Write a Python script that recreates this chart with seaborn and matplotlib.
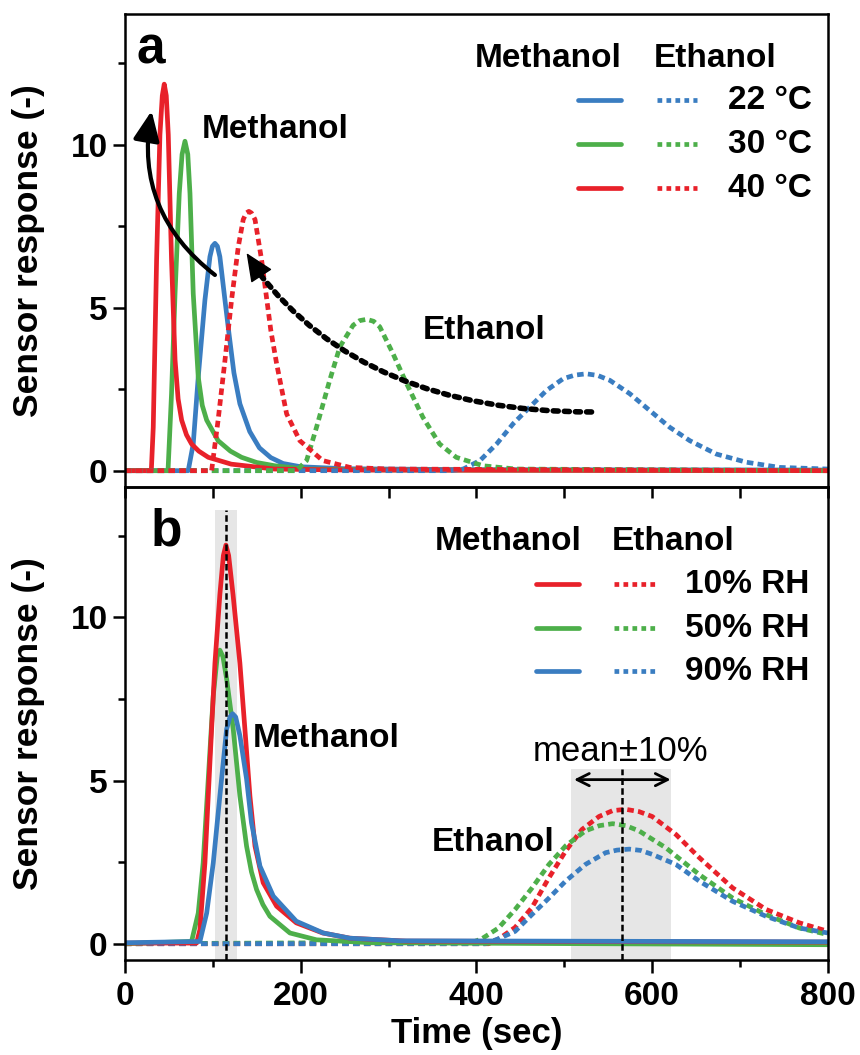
import matplotlib
matplotlib.use("Agg")
import matplotlib.pyplot as plt
import seaborn as sns
from matplotlib.ticker import MultipleLocator

# colours
RED = "#e8212a"
GREEN = "#4daf4a"
BLUE = "#3a7dc1"

# ---------- panel a: temperature ----------
# methanol (solid)
a_meoh_22_t = [0, 72, 77.7, 83.4, 91, 96.7, 99.5, 102.4, 105.2, 108, 113.8, 118.4, 124, 130.8, 142, 153, 166, 180, 200, 250, 400, 800]
a_meoh_22_y = [0, 0, 0.82, 2.87, 5.23, 6.56, 6.88, 6.97, 6.88, 6.56, 5.23, 4.2, 3.0, 2.05, 1.2, 0.7, 0.4, 0.22, 0.12, 0.06, 0.03, 0.02]
a_meoh_30_t = [0, 49, 53, 57, 61.8, 65, 68.3, 71.5, 74, 77.7, 83.4, 88, 93, 106, 120, 132.7, 150, 170.6, 205, 300, 800]
a_meoh_30_y = [0, 0, 2.36, 5.43, 8.5, 9.7, 10.1, 9.7, 8.5, 5.43, 2.87, 2.0, 1.55, 0.92, 0.6, 0.41, 0.25, 0.15, 0.05, 0.02, 0]
a_meoh_40_t = [0, 30, 32.2, 36, 39.8, 42.5, 44.7, 47, 49.3, 53, 57, 60.5, 64.5, 70, 75.8, 84, 94.8, 121, 170, 250, 800]
a_meoh_40_y = [0, 0, 1.33, 6.46, 10.3, 11.5, 11.85, 11.5, 10.3, 6.46, 3.4, 2.2, 1.55, 1.1, 0.82, 0.6, 0.41, 0.2, 0.05, 0.02, 0]
# ethanol (dotted)
a_etoh_22_t = [0, 370, 385, 404, 423, 441.8, 460.7, 479.7, 498.7, 512, 525, 538, 551.8, 574.5, 597, 620, 642.8, 673, 707, 745, 800]
a_etoh_22_y = [0, 0, 0.05, 0.31, 0.82, 1.44, 1.95, 2.46, 2.82, 2.93, 2.97, 2.92, 2.77, 2.36, 1.85, 1.33, 0.92, 0.51, 0.26, 0.1, 0.05]
a_etoh_30_t = [0, 195, 206.7, 218, 233, 244.6, 259.7, 267, 275, 283, 290, 305, 320.5, 339, 358, 377, 407.6, 445, 800]
a_etoh_30_y = [0, 0, 0.31, 1.33, 2.77, 3.8, 4.46, 4.6, 4.64, 4.58, 4.41, 3.59, 2.67, 1.64, 0.82, 0.41, 0.15, 0.05, 0]
a_etoh_40_t = [0, 98.6, 106, 113.8, 121.3, 129, 134.6, 138, 141, 144, 148, 155.5, 161, 166, 172.6, 184, 199, 225, 256, 300, 800]
a_etoh_40_y = [0, 0, 1.55, 3.38, 5.23, 6.87, 7.7, 7.9, 7.95, 7.9, 7.7, 6.46, 5.33, 4.3, 3.28, 1.74, 0.92, 0.31, 0.1, 0.05, 0]

# ---------- panel b: humidity ----------
b_meoh_10_t = [0, 81.5, 85.3, 91, 96.7, 102.4, 108, 112, 114.9, 118, 123, 130.8, 136.5, 142.2, 148, 157.3, 172.6, 195, 225, 256, 320, 800]
b_meoh_10_y = [0.02, 0.02, 0.43, 2.48, 5.56, 8.6, 10.7, 11.9, 12.22, 11.9, 10.7, 8.6, 6.58, 4.53, 2.99, 1.87, 1.15, 0.64, 0.33, 0.17, 0.08, 0.05]
b_meoh_50_t = [0, 75.8, 83.4, 89, 94.8, 100.5, 105, 108, 111.5, 115.7, 123.2, 130.8, 138.4, 144, 149.8, 157, 165, 187.7, 218, 280, 800]
b_meoh_50_y = [0, 0.07, 0.94, 2.48, 5.05, 7.6, 8.8, 9.0, 8.8, 8.12, 6.58, 4.53, 2.99, 2.2, 1.66, 1.2, 0.84, 0.33, 0.12, 0.03, -0.03]
b_meoh_90_t = [0, 85.3, 93, 100.5, 108, 115.7, 119.5, 122.5, 126, 130.8, 138.4, 144, 153.6, 168.8, 195, 225.6, 256, 313, 800]
b_meoh_90_y = [0.03, 0.07, 0.94, 2.48, 4.53, 6.58, 6.95, 7.05, 6.95, 6.38, 5.05, 3.71, 2.38, 1.46, 0.69, 0.33, 0.17, 0.09, 0.06]
b_etoh_10_t = [0, 414, 426.6, 444, 463, 482, 501.5, 520, 539.5, 555, 570, 585, 600, 627, 653.6, 691.6, 729.7, 767.7, 800]
b_etoh_10_y = [0, 0, 0.17, 0.5, 1.1, 2.0, 2.84, 3.5, 3.9, 4.08, 4.12, 4.05, 3.9, 3.35, 2.64, 1.71, 1.05, 0.64, 0.38]
b_etoh_50_t = [0, 396, 406, 425, 444, 463, 482.5, 501.5, 524, 540, 555, 570, 585, 615.6, 653.6, 691.6, 729.7, 767.7, 800]
b_etoh_50_y = [0, 0.05, 0.15, 0.48, 1.05, 1.7, 2.43, 3.0, 3.46, 3.62, 3.68, 3.62, 3.46, 2.94, 2.12, 1.4, 0.89, 0.48, 0.28]
b_etoh_90_t = [0, 410, 425, 444, 463, 482.5, 501.5, 524, 547, 560, 574, 587, 600, 627, 653.6, 691.6, 729.7, 767.7, 800]
b_etoh_90_y = [0, 0, 0.15, 0.38, 0.89, 1.4, 1.92, 2.43, 2.79, 2.87, 2.9, 2.86, 2.74, 2.43, 1.92, 1.3, 0.84, 0.48, 0.33]

temp_labels = ["22 \u00b0C", "30 \u00b0C", "40 \u00b0C"]
rh_labels = ["10% RH", "50% RH", "90% RH"]

# peak-time windows in panel b (mean and +-10%)
meoh_mean, meoh_lo, meoh_hi, meoh_top = 115, 102, 127, 13.3
etoh_mean, etoh_lo, etoh_hi, etoh_top = 565.4, 508, 621, 5.35

sns.set_style("ticks")
plt.rcParams["font.family"] = ["Liberation Sans", "DejaVu Sans"]
plt.rcParams["font.weight"] = "bold"
plt.rcParams["axes.labelweight"] = "bold"
for k in ("text.color", "axes.labelcolor", "xtick.color", "ytick.color", "axes.edgecolor"):
    plt.rcParams[k] = "black"
FS = 24

LW = 3.4
DOT = (0, (1.4, 0.9))

fig = plt.figure(figsize=(8.6, 10.55), dpi=100)
ax_a = fig.add_axes([0.1453, 0.5384, 0.8174, 0.4483])
ax_b = fig.add_axes([0.1453, 0.0900, 0.8174, 0.4484])
ax_b.patch.set_alpha(0)


def curve(ax, t, y, color, ls="-"):
    sns.lineplot(x=t, y=y, ax=ax, color=color, lw=LW, linestyle=ls,
                 solid_joinstyle="round", solid_capstyle="round")


# panel a curves
curve(ax_a, a_meoh_22_t, a_meoh_22_y, BLUE)
curve(ax_a, a_meoh_30_t, a_meoh_30_y, GREEN)
curve(ax_a, a_meoh_40_t, a_meoh_40_y, RED)
curve(ax_a, a_etoh_22_t, a_etoh_22_y, BLUE, DOT)
curve(ax_a, a_etoh_30_t, a_etoh_30_y, GREEN, DOT)
curve(ax_a, a_etoh_40_t, a_etoh_40_y, RED, DOT)

# panel b shaded windows
ax_b.fill_between([meoh_lo, meoh_hi], -0.5, meoh_top, color="#e6e6e6", lw=0, zorder=0)
ax_b.fill_between([etoh_lo, etoh_hi], -0.5, etoh_top, color="#e6e6e6", lw=0, zorder=0)

curve(ax_b, b_etoh_10_t, b_etoh_10_y, RED, DOT)
curve(ax_b, b_etoh_50_t, b_etoh_50_y, GREEN, DOT)
curve(ax_b, b_etoh_90_t, b_etoh_90_y, BLUE, DOT)
curve(ax_b, b_meoh_50_t, b_meoh_50_y, GREEN)
curve(ax_b, b_meoh_10_t, b_meoh_10_y, RED)
curve(ax_b, b_meoh_90_t, b_meoh_90_y, BLUE)

ax_b.plot([meoh_mean, meoh_mean], [-0.5, meoh_top], color="k", lw=1.8, ls=(0, (2.6, 1.3)), zorder=5)
ax_b.plot([etoh_mean, etoh_mean], [-0.5, etoh_top], color="k", lw=1.8, ls=(0, (2.6, 1.3)), zorder=5)
ax_b.annotate("", xy=(etoh_lo + 3, 5.03), xytext=(etoh_hi, 5.03),
              arrowprops=dict(arrowstyle="<->", lw=2, color="k",
                              shrinkA=0, shrinkB=0, mutation_scale=22))
ax_b.text((etoh_lo + etoh_hi) / 2, 5.6, "mean\u00b110%", fontsize=25,
          fontweight="normal", ha="center", va="baseline")

# arrows in panel a
HEAD = "-|>,head_length=0.45,head_width=0.2"
ax_a.annotate("", xy=(30.3, 11.03), xytext=(102.4, 6.0),
              arrowprops=dict(arrowstyle=HEAD, lw=3, color="k", shrinkA=0, shrinkB=0,
                              mutation_scale=40, connectionstyle="arc3,rad=-0.3"))
ax_a.annotate("", xy=(150, 6.15), xytext=(531, 1.8),
              arrowprops=dict(arrowstyle="-", lw=4, color="k",
                              linestyle=(0, (0.9, 1.1)), shrinkA=0, shrinkB=0,
                              connectionstyle="angle3,angleA=0,angleB=-53"))
ax_a.annotate("", xy=(138.4, 6.67), xytext=(152.2, 6.1),
              arrowprops=dict(arrowstyle=HEAD, lw=1, color="k", shrinkA=0, shrinkB=0,
                              mutation_scale=40))

# text labels
ax_a.text(171.5, 10.46, "Methanol", fontsize=FS, ha="center", va="center")
ax_a.text(408.6, 4.31, "Ethanol", fontsize=FS, ha="center", va="center")
ax_b.text(145.6, 6.28, "Methanol", fontsize=FS, ha="left", va="center")
ax_b.text(419, 3.1, "Ethanol", fontsize=FS, ha="center", va="center")
ax_a.text(0.016, 0.895, "a", transform=ax_a.transAxes, fontsize=37, ha="left", va="baseline")
ax_b.text(0.036, 0.877, "b", transform=ax_b.transAxes, fontsize=37, ha="left", va="baseline")


# legend tables
def legend_table(ax, colors, labels, hdr_y, hdr_x, rows_y, solid_x, dot_x, lab_x):
    ax.text(hdr_x[0], hdr_y, "Methanol", transform=ax.transAxes, fontsize=FS, ha="left", va="center")
    ax.text(hdr_x[1], hdr_y, "Ethanol", transform=ax.transAxes, fontsize=FS, ha="left", va="center")
    for c, lab, y in zip(colors, labels, rows_y):
        ax.plot(solid_x, [y, y], transform=ax.transAxes, color=c, lw=LW, solid_capstyle="round")
        ax.plot(dot_x, [y, y], transform=ax.transAxes, color=c, lw=LW, ls=(0, (1.0, 0.9)))
        ax.text(lab_x, y, lab, transform=ax.transAxes, fontsize=FS, ha="right", va="center")


legend_table(ax_a, [BLUE, GREEN, RED], temp_labels, 0.905, (0.497, 0.752),
             (0.818, 0.725, 0.632), (0.644, 0.706), (0.757, 0.814), 0.977)
legend_table(ax_b, [RED, GREEN, BLUE], rh_labels, 0.884, (0.440, 0.692),
             (0.794, 0.701, 0.610), (0.585, 0.646), (0.696, 0.755), 0.974)

# axes styling
for ax in (ax_a, ax_b):
    ax.set_xlim(0, 800)
    ax.set_ylim(-0.5, 14.0)
    ax.xaxis.set_major_locator(MultipleLocator(200))
    ax.xaxis.set_minor_locator(MultipleLocator(100))
    ax.yaxis.set_major_locator(MultipleLocator(5))
    ax.yaxis.set_minor_locator(MultipleLocator(2.5))
    for s in ax.spines.values():
        s.set_linewidth(1.8)
        s.set_visible(True)
    ax.tick_params(axis="y", which="major", direction="out", length=8.5, width=1.8, labelsize=FS, pad=4)
    ax.tick_params(axis="y", which="minor", direction="out", length=5, width=1.8)
    ax.set_ylabel("Sensor response (-)", fontsize=25.5)
    ax.yaxis.set_label_coords(-0.114, 0.5)

# ticks on the shared border hang down into panel b
ax_a.tick_params(axis="x", which="both", direction="out", length=8, width=1.8, labelbottom=False)
ax_b.tick_params(axis="x", which="major", direction="out", length=9, width=1.8, labelsize=FS, pad=6)
ax_b.tick_params(axis="x", which="minor", direction="out", length=5, width=1.8)
ax_b.set_xlabel("Time (sec)", fontsize=25, labelpad=4)

fig.savefig("out.png", dpi=100)
